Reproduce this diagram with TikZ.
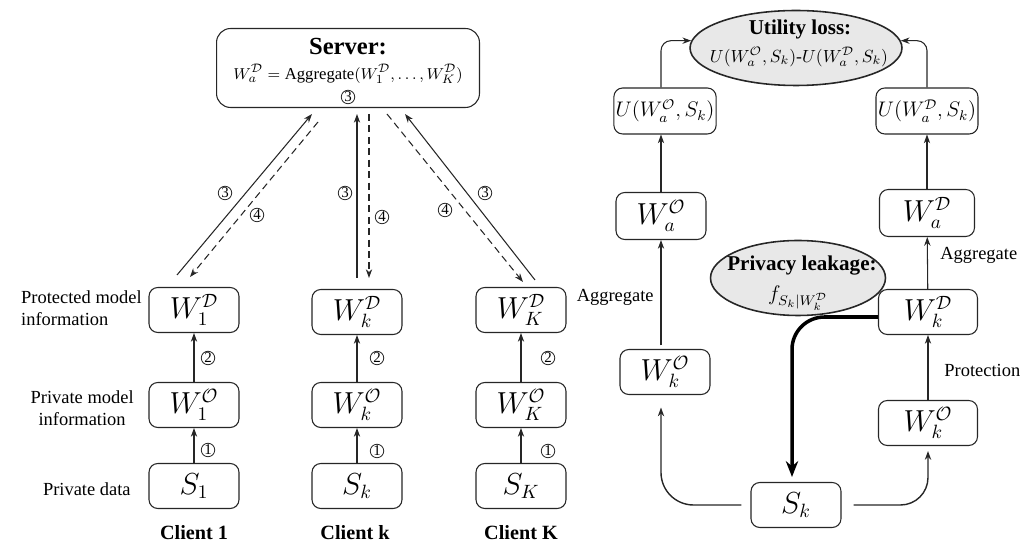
\documentclass[tikz,border=0pt]{standalone}
\usepackage{amsmath,amssymb}
\usepackage{fontspec}
\setmainfont{Liberation Serif}
\usetikzlibrary{arrows.meta,shapes.geometric}

\begin{document}
\begin{tikzpicture}[x=0.02cm, y=-0.02cm, line width=0.6pt, draw=black!85,
    box/.style={draw, rounded corners=5pt, fill=white, minimum width=1.8cm, minimum height=0.9cm, inner sep=1pt, font=\fontsize{16}{19}\selectfont},
    oval/.style={draw, ellipse, fill=black!9, line width=0.9pt, inner sep=0pt},
    lbl/.style={font=\fontsize{10.5}{12.5}\selectfont, align=center},
    cname/.style={font=\fontsize{11.5}{13}\selectfont\bfseries},
    cnum/.style={draw, circle, line width=0.45pt, inner sep=0pt, minimum size=0.27cm, font=\fontsize{8.5}{9}\selectfont},
    arr/.style={-{Stealth[length=5pt,width=3.6pt]}},
    dsh/.style={arr, dash pattern=on 4pt off 2.5pt},
    ]
  \useasboundingbox (0,0) rectangle (1025,543);

  % server
  \node[box, minimum width=5.26cm, minimum height=1.58cm, rounded corners=8pt] (server) at (348,68) {};
  \node[font=\fontsize{14}{16}\selectfont\bfseries] (srvtitle) at (348,47) {Server:};
  \node[font=\fontsize{9.5}{12}\selectfont] (srvform) at (348,74)
    {$W_a^{\mathcal{D}} = \text{Aggregate}(W_1^{\mathcal{D}},\dots,W_K^{\mathcal{D}})$};
  \node[cnum] (srvnum) at (348,97) {3};

  % clients
  \node[box] (d1) at (194,310) {$W_1^{\mathcal{D}}$};
  \node[box] (o1) at (194,405) {$W_1^{\mathcal{O}}$};
  \node[box] (s1) at (194,486) {$S_1$};
  \node[box] (dk) at (357,312) {$W_k^{\mathcal{D}}$};
  \node[box] (ok) at (357,405) {$W_k^{\mathcal{O}}$};
  \node[box] (sk) at (357,486) {$S_k$};
  \node[box] (dK) at (521,310) {$W_K^{\mathcal{D}}$};
  \node[box] (oK) at (521,405) {$W_K^{\mathcal{O}}$};
  \node[box] (sK) at (521,486) {$S_K$};

  \node[cname] (c1) at (194,533) {Client 1};
  \node[cname] (ck) at (355,533) {Client k};
  \node[cname] (cK) at (521,533) {Client K};

  \node[lbl, align=left, anchor=east] (lprot) at (148,308) {Protected model\\information};
  \node[lbl, anchor=east] (lpriv) at (140,408) {Private model\\information};
  \node[lbl, anchor=east] (ldata) at (137,489) {Private data};

  \draw[arr] (s1) -- (o1);
  \draw[arr] (o1) -- (d1);
  \draw[arr] (sk) -- (ok);
  \draw[arr] (ok) -- (dk);
  \draw[arr] (sK) -- (oK);
  \draw[arr] (oK) -- (dK);
  \node[cnum] (n11) at (208,450) {1};
  \node[cnum] (n21) at (208,358) {2};
  \node[cnum] (n1k) at (377,451) {1};
  \node[cnum] (n2k) at (377,358) {2};
  \node[cnum] (n1K) at (548,451) {1};
  \node[cnum] (n2K) at (548,358) {2};

  % upload / download
  \coordinate (up1) at (177,275);
  \coordinate (srv1) at (312,114);
  \coordinate (srv2) at (318,122);
  \coordinate (dn1) at (190,277);
  \coordinate (upk) at (357,278);
  \coordinate (srvk) at (357,114);
  \coordinate (srvk2) at (369,114);
  \coordinate (dnk) at (369,278);
  \coordinate (srvK2) at (387,114);
  \coordinate (dnK) at (523,282);
  \coordinate (upK) at (535,280);
  \coordinate (srvK) at (405,114);
  \draw[arr] (up1) -- (srv1);
  \draw[dsh] (srv2) -- (dn1);
  \draw[arr] (upk) -- (srvk);
  \draw[dsh] (srvk2) -- (dnk);
  \draw[dsh] (srvK2) -- (dnK);
  \draw[arr] (upK) -- (srvK);
  \node[cnum] (n31) at (225,193) {3};
  \node[cnum] (n41) at (257,215) {4};
  \node[cnum] (n3k) at (345,193) {3};
  \node[cnum] (n4k) at (382,217) {4};
  \node[cnum] (n4K) at (445,210) {4};
  \node[cnum] (n3K) at (485,193) {3};

  % right: utility and privacy
  \node[oval, minimum width=4.24cm, minimum height=1.5cm] (loss) at (796,48) {};
  \node[font=\fontsize{12}{14}\selectfont\bfseries] (losstitle) at (800,29) {Utility loss:};
  \node[font=\fontsize{10}{12}\selectfont] (lossform) at (799,57)
    {$U(W_a^{\mathcal{O}},S_k)\text{-}U(W_a^{\mathcal{D}},S_k)$};
  \node[box, minimum width=1.98cm, minimum height=0.92cm, font=\fontsize{11.5}{14}\selectfont] (uo) at (665,111) {$U(W_a^{\mathcal{O}},S_k)$};
  \node[box, minimum width=2cm, minimum height=0.92cm, font=\fontsize{11.5}{14}\selectfont] (ud) at (927,111) {$U(W_a^{\mathcal{D}},S_k)$};
  \node[box, minimum height=0.94cm] (wao) at (661,216) {$W_a^{\mathcal{O}}$};
  \node[box, minimum width=1.9cm, minimum height=0.94cm] (wad) at (927,213) {$W_a^{\mathcal{D}}$};
  \node[oval, minimum width=3.5cm, minimum height=1.5cm] (leak) at (798,278) {};
  \node[font=\fontsize{12}{14}\selectfont\bfseries] (leaktitle) at (802,266) {Privacy leakage:};
  \node[font=\fontsize{12}{14}\selectfont] (leakform) at (798,298) {$f_{S_k|W_k^{\mathcal{D}}}$};
  \node[box] (wko) at (665,372) {$W_k^{\mathcal{O}}$};
  \node[box, minimum width=1.98cm] (wkd) at (928,312) {$W_k^{\mathcal{D}}$};
  \node[box, minimum width=1.98cm] (wko2) at (928,423) {$W_k^{\mathcal{O}}$};
  \node[box] (skr) at (796,505) {$S_k$};

  \draw[arr] (wao.north) -- (wao.north |- uo.south);
  \draw[arr] (wad) -- (ud);
  \draw[arr, rounded corners=0.2cm] (uo.north -| wao.north) |- (loss.176);
  \draw[arr, rounded corners=0.2cm] (ud.north) |- (loss.4);
  \draw[arr, shorten <=2pt] (wko.north -| wao.north) -- (wao.south);
  \draw[arr] (wkd) -- (wad);
  \draw[arr] (wko2) -- (wkd);
  \node[lbl, anchor=east] (agl) at (660,297) {Aggregate};
  \node[lbl, anchor=west] (agr) at (934,255) {Aggregate};
  \node[lbl, anchor=west] (prot) at (938,370) {Protection};
  \draw[arr, line width=0.8pt, rounded corners=0.65cm, shorten <=0.18cm, shorten >=0.25cm] (skr.west) -| (wko.south -| wao.north);
  \draw[arr, line width=0.8pt, rounded corners=0.55cm, shorten <=0.24cm, shorten >=0.1cm] (skr.east) -| (wko2.south);
  \draw[-{Stealth[length=9pt,width=7pt]}, line width=2pt, draw=black, rounded corners=0.65cm, shorten >=0.1cm]
    ([yshift=-0.1cm]wkd.west) -| ([xshift=-0.08cm]skr.north);
\end{tikzpicture}
\end{document}
